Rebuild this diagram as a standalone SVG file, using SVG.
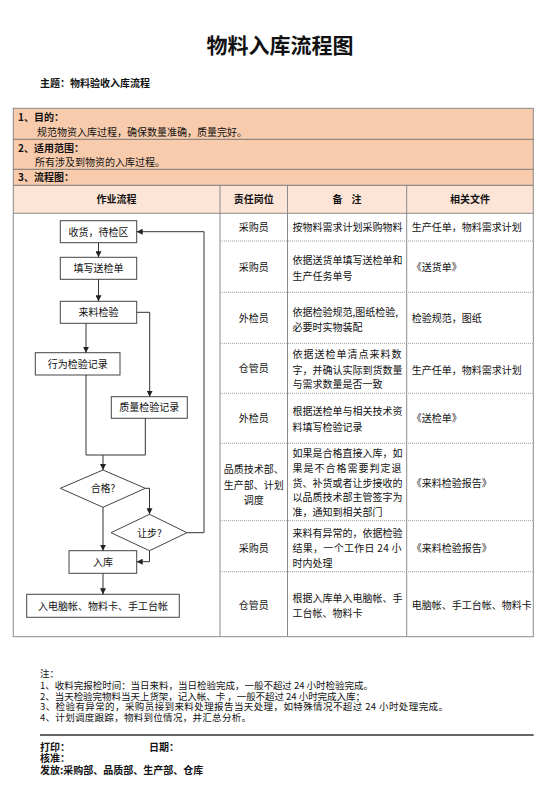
<svg xmlns="http://www.w3.org/2000/svg" width="560" height="792" viewBox="0 0 560 792">
<defs>
<marker id="arr" markerUnits="userSpaceOnUse" markerWidth="7" markerHeight="6" refX="6" refY="3" orient="auto">
<path d="M0,0 L6,3 L0,6 z" fill="#222"/>
</marker>
</defs>
<style>
.t{font-family:"Noto Sans CJK SC","Noto Sans",sans-serif;font-size:10px;fill:#111}
.b{font-weight:bold}
.c{text-anchor:middle}
.n{font-size:9.5px}
.box{fill:#fff;stroke:#444;stroke-width:1}
.cn{fill:none;stroke:#333;stroke-width:1}
.grid{stroke:#8a8a8a;stroke-width:1;fill:none}
.dot{stroke:#9a9a9a;stroke-width:1;stroke-dasharray:1 1;fill:none}
</style>
<rect width="560" height="792" fill="#fff"/>

<text class="t b c" x="280" y="53" style="font-size:21px">物料入库流程图</text>
<text class="t b" x="40" y="87">主题：物料验收入库流程</text>

<!-- table backgrounds -->
<rect x="13.3" y="108.3" width="520" height="77" fill="#F8CBAD"/>
<rect x="13.3" y="185.3" width="520" height="28" fill="#FCE4D6"/>

<!-- table lines -->
<g id="table-grid">
<rect class="grid" x="13.3" y="108.3" width="520" height="528.4"/>
<line class="grid" x1="13.3" y1="139.3" x2="533.3" y2="139.3" style="stroke:#777"/>
<line class="grid" x1="13.3" y1="169.3" x2="533.3" y2="169.3" style="stroke:#777"/>
<line class="grid" x1="13.3" y1="185.3" x2="533.3" y2="185.3" style="stroke:#777"/>
<line class="grid" x1="13.3" y1="213.3" x2="533.3" y2="213.3"/>
<line class="grid" x1="220" y1="185.3" x2="220" y2="636.7"/>
<line class="grid" x1="287.5" y1="185.3" x2="287.5" y2="636.7"/>
<line class="grid" x1="406.7" y1="185.3" x2="406.7" y2="636.7"/>
<line class="dot" x1="220" y1="241" x2="533.3" y2="241"/>
<line class="dot" x1="220" y1="292.3" x2="533.3" y2="292.3"/>
<line class="dot" x1="220" y1="343.3" x2="533.3" y2="343.3"/>
<line class="dot" x1="220" y1="393.3" x2="533.3" y2="393.3"/>
<line class="dot" x1="220" y1="443.3" x2="533.3" y2="443.3"/>
<line class="dot" x1="220" y1="520.7" x2="533.3" y2="520.7"/>
<line class="dot" x1="220" y1="571.7" x2="533.3" y2="571.7"/>
</g>

<!-- section texts -->
<text class="t b" x="18" y="121">1、目的：</text>
<text class="t" x="37" y="136">规范物资入库过程，确保数量准确，质量完好。</text>
<text class="t b" x="18" y="152">2、适用范围：</text>
<text class="t" x="35" y="166">所有涉及到物资的入库过程。</text>
<text class="t b" x="18" y="181">3、流程图：</text>

<text class="t b c" x="116.6" y="203">作业流程</text>
<text class="t b c" x="253.7" y="203">责任岗位</text>
<text class="t b c" x="347" y="203" xml:space="preserve">备    注</text>
<text class="t b c" x="470" y="203">相关文件</text>

<!-- table rows -->
<g id="rows">
<text class="t c" x="253.7" y="231">采购员</text>
<text class="t" x="292.5" y="231">按物料需求计划采购物料</text>
<text class="t" x="411.7" y="231">生产任单，物料需求计划</text>

<text class="t c" x="253.7" y="271">采购员</text>
<text class="t" x="292.5" y="264">依据送货单填写送检单和</text>
<text class="t" x="292.5" y="280">生产任务单号</text>
<text class="t" x="411.7" y="271">《送货单》</text>

<text class="t c" x="253.7" y="322">外检员</text>
<text class="t" x="292.5" y="315.5">依据检验规范,图纸检验,</text>
<text class="t" x="292.5" y="330.5">必要时实物装配</text>
<text class="t" x="411.7" y="322">检验规范，图纸</text>

<text class="t c" x="253.7" y="372">仓管员</text>
<text class="t" x="292.5" y="358" textLength="109" lengthAdjust="spacing">依据送检单清点来料数</text>
<text class="t" x="292.5" y="374">字，并确认实际到货数量</text>
<text class="t" x="292.5" y="388">与需求数量是否一致</text>
<text class="t" x="411.7" y="374">生产任单，物料需求计划</text>

<text class="t c" x="253.7" y="422">外检员</text>
<text class="t" x="292.5" y="414.5">根据送检单与相关技术资</text>
<text class="t" x="292.5" y="430.5">料填写检验记录</text>
<text class="t" x="411.7" y="422">《送检单》</text>

<text class="t c" x="253.7" y="472.5">品质技术部、</text>
<text class="t c" x="253.7" y="488.5">生产部、计划</text>
<text class="t c" x="253.7" y="504">调度</text>
<text class="t" x="292.5" y="457.3">如果是合格直接入库，如</text>
<text class="t" x="292.5" y="471.9" textLength="109" lengthAdjust="spacing">果是不合格需要判定退</text>
<text class="t" x="292.5" y="486.5">货、补货或者让步接收的</text>
<text class="t" x="292.5" y="501.1">以品质技术部主管签字为</text>
<text class="t" x="292.5" y="515.7">准，通知到相关部门</text>
<text class="t" x="411.7" y="487">《来料检验报告》</text>

<text class="t c" x="253.7" y="551.5">采购员</text>
<text class="t" x="292.5" y="537.1">来料有异常的，依据检验</text>
<text class="t" x="292.5" y="552.1" textLength="109" lengthAdjust="spacing">结果，一个工作日 24 小</text>
<text class="t" x="292.5" y="567.1">时内处理</text>
<text class="t" x="411.7" y="552">《来料检验报告》</text>

<text class="t c" x="253.7" y="609">仓管员</text>
<text class="t" x="292.5" y="602.1">根据入库单入电脑帐、手</text>
<text class="t" x="292.5" y="617.1">工台帐、物料卡</text>
<text class="t" x="411.7" y="609">电脑帐、手工台帐、物料卡</text>
</g>

<!-- flowchart nodes -->
<g id="n-receive"><rect class="box" x="60.3" y="220.7" width="76.4" height="22"/><text class="t c" x="98.5" y="235.5">收货，待检区</text></g>
<g id="n-fill"><rect class="box" x="60.3" y="257.3" width="76.4" height="22"/><text class="t c" x="98.5" y="272">填写送检单</text></g>
<g id="n-inspect"><rect class="box" x="60.3" y="301.3" width="76.4" height="22"/><text class="t c" x="98.5" y="316">来料检验</text></g>
<g id="n-record1"><rect class="box" x="35.3" y="352.7" width="84.7" height="22.3"/><text class="t c" x="77.7" y="367.6">行为检验记录</text></g>
<g id="n-record2"><rect class="box" x="111.3" y="396.7" width="76" height="21.6"/><text class="t c" x="149.3" y="411.3">质量检验记录</text></g>
<g id="n-pass"><polygon class="box" points="60.3,488.3 103,470 145.3,488.3 103,507.3"/><text class="t c" x="103" y="492">合格?</text></g>
<g id="n-concede"><polygon class="box" points="111,532.7 149.5,514.3 187,532.7 149.5,550.7"/><text class="t c" x="149.5" y="536.5">让步?</text></g>
<g id="n-store"><rect class="box" x="69" y="550.7" width="67.7" height="22.6"/><text class="t c" x="103" y="565.8">入库</text></g>
<g id="n-ledger"><rect class="box" x="26.7" y="594.3" width="152.6" height="23"/><text class="t c" x="103" y="609.6">入电脑帐、物料卡、手工台帐</text></g>

<!-- connectors -->
<g id="connectors">
<path class="cn" d="M98.5,242.7 V257.3" marker-end="url(#arr)"/>
<path class="cn" d="M98.5,279.3 V301.3" marker-end="url(#arr)"/>
<path class="cn" d="M86,323.3 V352.7" marker-end="url(#arr)"/>
<path class="cn" d="M136.7,312.3 H149.7 V396.7" marker-end="url(#arr)"/>
<path class="cn" d="M86,375 V455 H145.3 V418.3"/>
<path class="cn" d="M103,455 V470" marker-end="url(#arr)"/>
<path class="cn" d="M145.3,488.3 H149.5 V514.3" marker-end="url(#arr)"/>
<path class="cn" d="M103,507.3 V550.7" marker-end="url(#arr)"/>
<path class="cn" d="M149.5,550.7 V561.7 H136.7" marker-end="url(#arr)"/>
<path class="cn" d="M187,532.7 H204 V231.7 H136.7" marker-end="url(#arr)"/>
<path class="cn" d="M103,573.3 V594.3" marker-end="url(#arr)"/>
</g>

<!-- notes -->
<text class="t n" x="40" y="676.5">注：</text>
<text class="t n" x="40" y="689" textLength="333" lengthAdjust="spacing">1、收料完报检时间：当日来料，当日检验完成，一般不超过 24 小时检验完成。</text>
<text class="t n" x="40" y="699.5" textLength="325" lengthAdjust="spacing">2、当天检验完物料当天上货架，记入帐、卡 ，一般不超过 24 小时完成入库；</text>
<text class="t n" x="40" y="710" textLength="408" lengthAdjust="spacing">3、检验有异常的，采购员接到来料处理报告当天处理，如特殊情况不超过 24 小时处理完成。</text>
<text class="t n" x="40" y="720.5" textLength="211" lengthAdjust="spacing">4、计划调度跟踪，物料到位情况，并汇总分析。</text>
<line x1="40" y1="735" x2="533.7" y2="735" stroke="#333" stroke-width="1.5"/>
<text class="t b" x="40" y="751">打印：</text>
<text class="t b" x="149" y="751">日期：</text>
<text class="t b" x="40" y="762.3">核准：</text>
<text class="t b" x="40" y="773.8">发放:采购部、品质部、生产部、仓库</text>
</svg>
